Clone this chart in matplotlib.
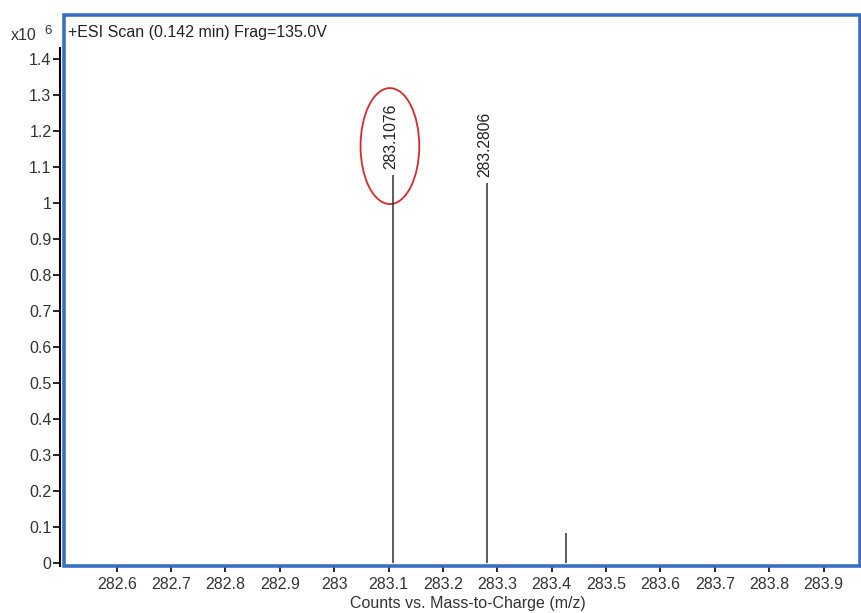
import matplotlib.pyplot as plt
from matplotlib.patches import Rectangle, Ellipse

# Centroid peaks of the ESI scan
mz = [283.1076, 283.2806, 283.427]
counts = [1.078, 1.056, 0.083]  # x10^6
labels = ["283.1076", "283.2806", None]

xticks = [282.6, 282.7, 282.8, 282.9, 283.0, 283.1, 283.2, 283.3,
          283.4, 283.5, 283.6, 283.7, 283.8, 283.9]
xtick_labels = ["282.6", "282.7", "282.8", "282.9", "283", "283.1", "283.2",
                "283.3", "283.4", "283.5", "283.6", "283.7", "283.8", "283.9"]
yticks = [0, 0.1, 0.2, 0.3, 0.4, 0.5, 0.6, 0.7, 0.8, 0.9, 1.0, 1.1, 1.2, 1.3, 1.4]
ytick_labels = ["0", "0.1", "0.2", "0.3", "0.4", "0.5", "0.6", "0.7", "0.8",
                "0.9", "1", "1.1", "1.2", "1.3", "1.4"]

plt.rcParams['font.family'] = ['Liberation Sans', 'DejaVu Sans']
FS = 11.5

W, H = 861, 613
fig = plt.figure(figsize=(W / 100, H / 100), dpi=100)
ax = fig.add_axes([64 / W, 1 - 566 / H, (860 - 64) / W, (566 - 15) / H])

ax.set_xlim(282.503, 283.967)
ax.set_ylim(-0.008, 1.522)

ax.vlines(mz, 0, counts, color='#303030', lw=1.1)
for x, y, lab in zip(mz, counts, labels):
    if lab:
        ax.annotate(lab, (x, y), xytext=(-1.5, 4), textcoords='offset points',
                    rotation=90, ha='center', va='bottom', fontsize=11.3,
                    color='#222222')

# highlight of the main peak label
ax.add_patch(Ellipse((283.1024, 1.158), 0.108, 0.322, fill=False,
                     edgecolor='#d42a2a', lw=1.3))

for s in ax.spines.values():
    s.set_visible(False)
ax.spines['left'].set_visible(True)
ax.spines['left'].set_position(('outward', 3))
ax.spines['left'].set_color('black')
ax.spines['left'].set_linewidth(1.5)
ax.spines['left'].set_bounds(-0.008, 1.43)

ax.set_yticks(yticks)
ax.set_yticklabels(ytick_labels)
ax.set_xticks(xticks)
ax.set_xticklabels(xtick_labels)
ax.tick_params(axis='y', direction='out', length=5, width=1.2, labelsize=FS,
               colors='black', pad=1)
ax.tick_params(axis='x', direction='out', length=4, width=1.2, labelsize=FS,
               colors='black', pad=4)
for lbl in ax.get_xticklabels() + ax.get_yticklabels():
    lbl.set_color('#333333')

ax.set_xlabel("Counts vs. Mass-to-Charge (m/z)", fontsize=FS, color='#333333',
              labelpad=4)
ax.xaxis.set_label_coords(0.5075, -0.055)

# blue frame of the plot area
ax.add_patch(Rectangle((0, 0), 1, 1, transform=ax.transAxes, fill=False,
                       edgecolor='#3a6fc8', lw=2.6, clip_on=False, zorder=5))

ax.text(0.005, 0.969, "+ESI Scan (0.142 min) Frag=135.0V", transform=ax.transAxes,
        fontsize=FS, color='#222222', va='center', ha='left')
fig.text(11 / W, 1 - 35 / H, "x10", fontsize=FS, color='#333333', va='center')
fig.text(44 / W, 1 - 31 / H, "6", fontsize=9.5, color='#333333', va='center')

fig.savefig("out.png", dpi=100, facecolor='white')
